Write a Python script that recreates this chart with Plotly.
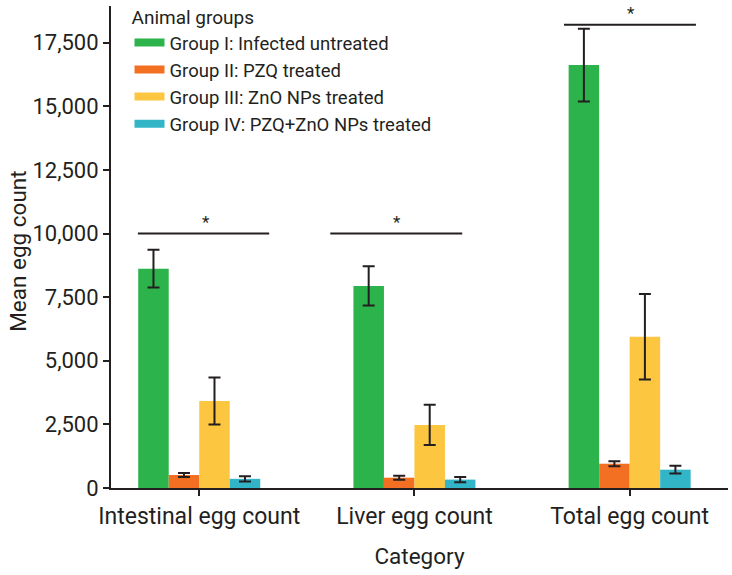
import plotly.graph_objects as go

categories = ["Intestinal egg count", "Liver egg count", "Total egg count"]
groups = ["Group I: Infected untreated", "Group II: PZQ treated",
          "Group III: ZnO NPs treated", "Group IV: PZQ+ZnO NPs treated"]
colors = ["#2cb34b", "#f37022", "#fdc640", "#33b5c8"]

g1_mean = [8620, 7940, 16620]
g1_err = [740, 770, 1430]
g2_mean = [510, 405, 955]
g2_err = [80, 80, 100]
g3_mean = [3420, 2480, 5940]
g3_err = [920, 790, 1680]
g4_mean = [360, 330, 720]
g4_err = [100, 100, 150]

means = [g1_mean, g2_mean, g3_mean, g4_mean]
errs = [g1_err, g2_err, g3_err, g4_err]

sig_y = [10000, 10000, 18200]
sig_labels = ["*", "*", "*"]

FONT = "Liberation Sans Narrow, Roboto, Arial Narrow, sans-serif"
INK = "#231f20"

fig = go.Figure()
xs = list(range(len(categories)))
for name, m, e, c in zip(groups, means, errs, colors):
    fig.add_trace(go.Bar(
        x=xs, y=m, name=name, marker=dict(color=c, line=dict(width=0)),
        error_y=dict(type="data", array=e, visible=True, color=INK,
                     thickness=2, width=6),
        showlegend=False,
    ))
for name, c in zip(groups, colors):
    fig.add_trace(go.Scatter(
        x=[None], y=[None], mode="lines", name=name,
        line=dict(color=c, width=8), showlegend=True,
    ))

# significance lines
spans = [(-0.285, 0.325), (0.609, 1.222), (1.695, 2.308)]
star_x = [0.03, 0.92, 2.005]
for (a, b), yv, sx, lab in zip(spans, sig_y, star_x, sig_labels):
    fig.add_shape(type="line", x0=a, x1=b, y0=yv, y1=yv, xref="x", yref="y",
                  line=dict(color=INK, width=2))
    fig.add_annotation(x=sx, y=yv, text=lab, showarrow=False, yshift=12,
                       font=dict(family=FONT, size=17, color=INK))

# y-axis title
fig.add_annotation(x=0, y=0.49, xref="paper", yref="paper", text="Mean egg count",
                   textangle=-90, showarrow=False, xanchor="center", yanchor="middle",
                   xshift=-93, font=dict(family=FONT, size=22.5, color=INK))

fig.update_layout(
    width=732, height=575,
    margin=dict(l=111, r=4, t=6, b=87, autoexpand=False),
    paper_bgcolor="white", plot_bgcolor="white",
    barmode="group", bargap=0.433, bargroupgap=0,
    font=dict(family=FONT, size=20, color=INK),
    legend=dict(
        title=dict(text="Animal groups", font=dict(family=FONT, size=19, color=INK)),
        x=0.03, y=1.014, xanchor="left", yanchor="top",
        font=dict(family=FONT, size=18.5, color=INK),
        bgcolor="rgba(0,0,0,0)", itemwidth=30, tracegroupgap=0,
    ),
    xaxis=dict(
        tickmode="array", tickvals=xs, ticktext=categories,
        range=[-0.41, 2.457], showline=True, linecolor=INK, linewidth=2,
        ticks="outside", ticklen=6, tickwidth=2, tickcolor=INK,
        tickfont=dict(family=FONT, size=23, color=INK),
        title=dict(text="Category", font=dict(family=FONT, size=22.5, color=INK), standoff=20),
        showgrid=False, zeroline=False, automargin=False,
    ),
    yaxis=dict(
        range=[0, 18940], tickmode="array",
        tickvals=[0, 2500, 5000, 7500, 10000, 12500, 15000, 17500],
        ticktext=["0", "2,500", "5,000", "7,500", "10,000", "12,500", "15,000", "17,500"],
        showline=True, linecolor=INK, linewidth=2,
        ticks="outside", ticklen=6, tickwidth=2, tickcolor=INK,
        tickfont=dict(family=FONT, size=22, color=INK),
        showgrid=False, zeroline=False, automargin=False,
    ),
)

fig.write_html("out.html")
